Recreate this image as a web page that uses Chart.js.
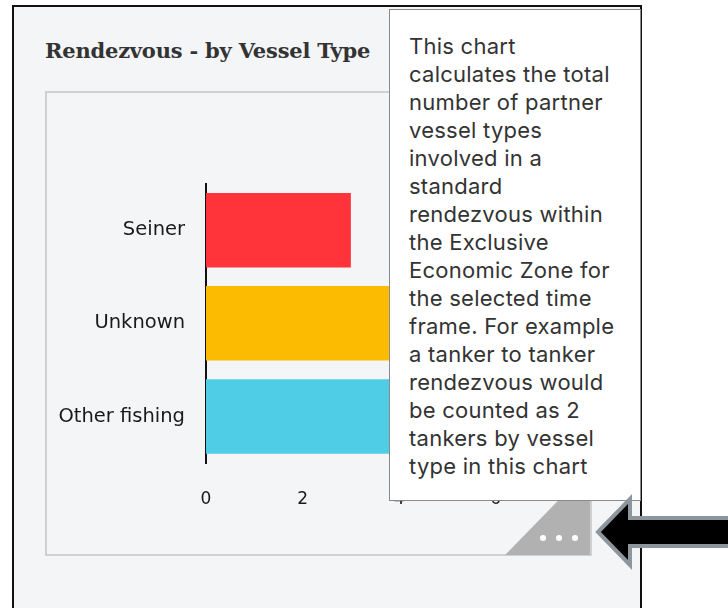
<!DOCTYPE html>
<html lang="en">
<head>
  <meta charset="UTF-8" />
  <title>Rendezvous - by Vessel Type</title>
  <script src="https://cdn.jsdelivr.net/npm/chart.js"></script>
  <style>
    body {
      margin: 0;
      width: 728px;
      height: 608px;
      background: #fff;
      position: relative;
      overflow: hidden;
    }
    .panel {
      position: absolute;
      left: 12px;
      top: 5px;
      width: 626px;
      height: 620px;
      border: 2px solid #111;
      background: #f4f5f7;
    }
    h2 {
      position: absolute;
      left: 45px;
      top: 38px;
      margin: 0;
      font-family: "DejaVu Serif", serif;
      font-size: 21px;
      font-weight: bold;
      color: #333;
      letter-spacing: -0.2px;
    }
    .chart-box {
      position: absolute;
      left: 45px;
      top: 91px;
      width: 543px;
      height: 461px;
      border: 2px solid #cfd0d2;
    }
    #chartWrap {
      position: absolute;
      left: 45px;
      top: 151px;
      width: 514px;
      height: 362px;
    }
    .more {
      position: absolute;
      left: 505px;
      top: 468px;
      width: 85px;
      height: 87px;
      background: #b1b1b1;
      clip-path: polygon(100% 0, 100% 100%, 0 100%);
    }
    .dot {
      position: absolute;
      top: 535px;
      width: 6px;
      height: 6px;
      border-radius: 50%;
      background: #fff;
    }
    .info {
      position: absolute;
      left: 389px;
      top: 9px;
      width: 231px;
      height: 468px;
      padding: 22px 0 0 19px;
      background: #fff;
      border: 1px solid #8a8a8a;
      font-family: Inter, sans-serif;
      font-size: 22px;
      line-height: 28px;
      letter-spacing: 0.25px;
      color: #333;
      white-space: nowrap;
    }
    svg { position: absolute; left: 0; top: 0; }
  </style>
</head>
<body>
  <div class="panel"></div>
  <h2>Rendezvous - by Vessel Type</h2>
  <div class="chart-box"></div>
  <div id="chartWrap"><canvas id="vesselChart" width="514" height="362"></canvas></div>
  <div class="more"></div>
  <div class="dot" style="left:540px"></div>
  <div class="dot" style="left:556px"></div>
  <div class="dot" style="left:572px"></div>
  <div class="info">This chart<br>calculates the total<br>number of partner<br>vessel types<br>involved in a<br>standard<br>rendezvous within<br>the Exclusive<br>Economic Zone for<br>the selected time<br>frame. For example<br>a tanker to tanker<br>rendezvous would<br>be counted as 2<br>tankers by vessel<br>type in this chart</div>
  <svg width="728" height="608">
    <polygon points="598,532 630,499 630,518 730,518 730,546 630,546 630,565"
             fill="#000" stroke="#8e969d" stroke-width="4" stroke-linejoin="miter" />
  </svg>

  <script>
    const vesselTypes = ['Seiner', 'Unknown', 'Other fishing'];
    const vesselCounts = [3, 6, 5];
    const barColors = ['#ff333a', '#fdbb00', '#50cde6'];
    const xTicks = [0, 2, 4, 6];
    const xMax = 7;

    new Chart(document.getElementById('vesselChart'), {
      type: 'bar',
      data: {
        labels: vesselTypes,
        datasets: [{
          data: vesselCounts,
          backgroundColor: barColors,
          borderWidth: 0,
          barPercentage: 1,
          categoryPercentage: 0.8
        }]
      },
      options: {
        indexAxis: 'y',
        responsive: false,
        animation: false,
        layout: { padding: { right: 15, top: 0, bottom: 0, left: 0 } },
        plugins: { legend: { display: false }, tooltip: { enabled: false } },
        scales: {
          x: {
            min: 0,
            max: xMax,
            afterBuildTicks: scale => { scale.ticks = xTicks.map(v => ({ value: v })); },
            afterFit: scale => { scale.height = 50; },
            grid: { display: false, drawTicks: false },
            border: { display: false },
            ticks: { color: '#1a1a1a', padding: 26, font: { family: 'DejaVu Sans', size: 17 } }
          },
          y: {
            afterFit: scale => { scale.width = 161; },
            grid: { display: false, drawTicks: false },
            border: { display: true, color: '#111', width: 2 },
            ticks: { color: '#1a1a1a', padding: 21, font: { family: 'DejaVu Sans', size: 19.5 } }
          }
        }
      }
    });
  </script>
</body>
</html>
